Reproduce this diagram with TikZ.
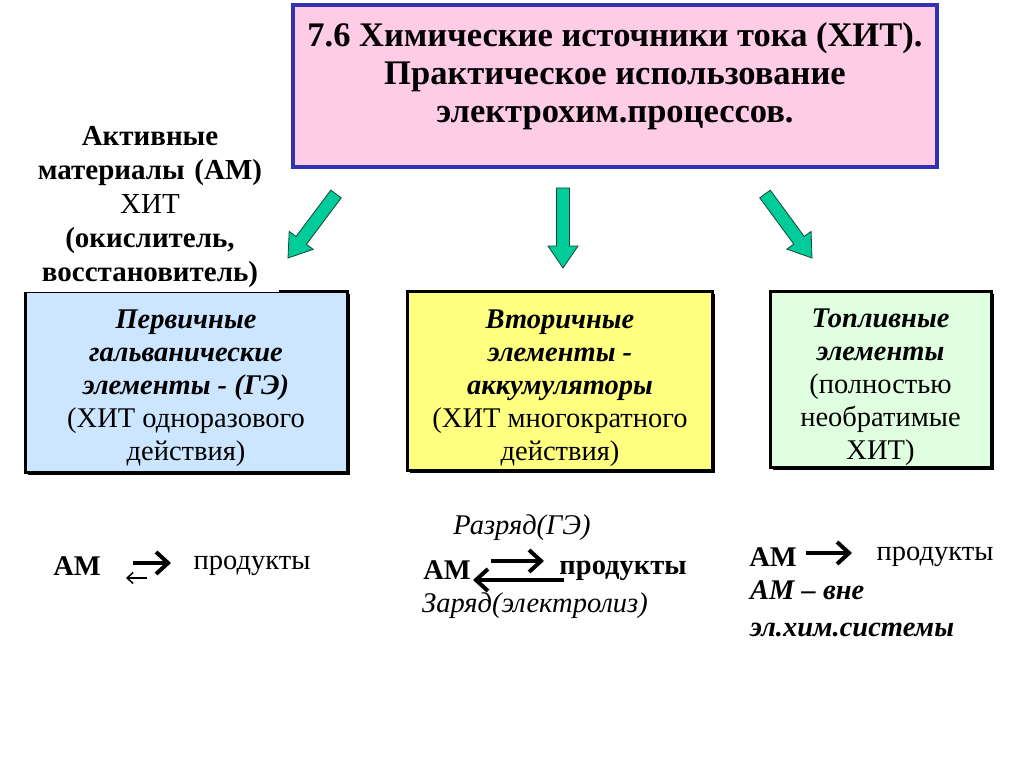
\documentclass[tikz,border=0pt]{standalone}
\usepackage{fontspec}
\setmainfont{Liberation Serif}
\usetikzlibrary{arrows.meta,calc,shadows}
\definecolor{titlefill}{RGB}{255,204,230}
\definecolor{titleline}{RGB}{51,51,178}
\definecolor{bluefill}{RGB}{204,230,255}
\definecolor{yellowfill}{RGB}{255,255,128}
\definecolor{greenfill}{RGB}{224,255,224}
\definecolor{arrowgreen}{RGB}{0,204,153}
\definecolor{arrowline}{RGB}{20,70,55}
\newcommand\blockarrow[2]{%
  \path let \p1=($(#2)-(#1)$) in \pgfextra{\pgfmathsetmacro\mylen{veclen(\x1,\y1)}\pgfmathsetmacro\myang{atan2(\y1,\x1)}\global\let\gLen\mylen\global\let\gAng\myang};
  \draw[blockarr, shift={(#1)}, rotate=\gAng] (0,6.5) -- ({\gLen-22},6.5) -- ({\gLen-22},15) -- (\gLen,0) -- ({\gLen-22},-15) -- ({\gLen-22},-6.5) -- (0,-6.5) -- cycle;
}
\begin{document}
\begin{tikzpicture}[x=1pt,y=1pt,
  blockarr/.style={fill=arrowgreen, draw=arrowline, line width=0.8pt, line join=miter},
  catbox/.style={draw=black, line width=3pt, inner sep=0pt,
    drop shadow={shadow xshift=3pt, shadow yshift=-3pt, fill=black, opacity=1}},
  boxtext/.style={inner sep=0pt, align=center, font=\fontsize{28.5}{33}\selectfont},
  txt/.style={inner sep=0pt, font=\fontsize{28.5}{33}\selectfont},
  thickarr/.style={line width=4pt, -{Straight Barb[length=12pt,width=22pt]}},
  thinarr/.style={line width=1.5pt, -{Straight Barb[length=6pt,width=11pt]}}
]
\useasboundingbox (0,0) rectangle (1024,-767);
\fill[white] (0,0) rectangle (1024,-767);

% title
\node[draw=titleline, fill=titlefill, line width=4pt, minimum width=644pt, minimum height=162pt, inner sep=0pt,
  drop shadow={shadow xshift=2pt, shadow yshift=-2pt, fill=titleline!70!black, opacity=1}] (title) at (615,-86) {};
\node[inner sep=0pt, align=center, font=\fontsize{34.5}{38}\selectfont\bfseries] (titletext) at (615,-76)
  {7.6 Химические источники тока (ХИТ).\\ Практическое использование\\ электрохим.процессов.};

% boxes
\node[catbox, fill=bluefill, minimum width=322pt, minimum height=181pt] (box1) at (186,-381.5) {};
\node[boxtext] (box1text) at (186,-388.5)
  {\textbf{\textit{Первичные}}\\ \textbf{\textit{гальванические}}\\ \textbf{\textit{элементы - (ГЭ)}}\\ (ХИТ одноразового\\ действия)};
\node[catbox, fill=yellowfill, minimum width=305pt, minimum height=179pt] (box2) at (559.5,-380.5) {};
\node[boxtext] (box2text) at (560,-388.5)
  {\textbf{\textit{Вторичные}}\\ \textbf{\textit{элементы -}}\\ \textbf{\textit{аккумуляторы}}\\ (ХИТ многократного\\ действия)};
\node[catbox, fill=greenfill, minimum width=221pt, minimum height=176pt] (box3) at (880.5,-379) {};
\node[boxtext] (box3text) at (880.5,-387.5)
  {\textbf{\textit{Топливные}}\\ \textbf{\textit{элементы}}\\ (полностью\\ необратимые\\ ХИТ)};

% left label
\node[fill=white, inner xsep=2pt, inner ysep=4.5pt, text width=254pt, align=center, anchor=south,
  font=\fontsize{29}{34}\selectfont] (amlabel) at (150,-292.5)
  {\textbf{Активные}\\ \textbf{материалы (АМ)}\\ ХИТ\\ \textbf{(окислитель,}\\ \textbf{восстановитель)}};

% green arrows
\coordinate (a1s) at (336,-194);
\coordinate (a1e) at (288,-258);
\coordinate (a2s) at (563,-188);
\coordinate (a2e) at (563,-268);
\coordinate (a3s) at (765,-194);
\coordinate (a3e) at (812,-258);
\blockarrow{a1s}{a1e}
\blockarrow{a2s}{a2e}
\blockarrow{a3s}{a3e}

% bottom left
\node[txt, font=\fontsize{28.5}{33}\selectfont\bfseries] (am1) at (77,-566) {АМ};
\node[txt] (prod1) at (252,-566) {продукты};
\coordinate (l1s) at (133,-563);
\coordinate (l1e) at (171,-563);
\coordinate (l2s) at (147,-578);
\coordinate (l2e) at (126,-578);
\draw[thickarr] (l1s) -- (l1e);
\draw[thinarr] (l2s) -- (l2e);

% bottom middle
\node[txt, font=\fontsize{28.5}{33}\selectfont\itshape] (razr) at (522,-528) {Разряд(ГЭ)};
\node[txt, font=\fontsize{28.5}{33}\selectfont\bfseries] (am2) at (447,-570) {АМ};
\node[txt, font=\fontsize{28.5}{33}\selectfont\bfseries] (prod2) at (623,-571) {продукты};
\node[txt, font=\fontsize{28.5}{33}\selectfont\itshape] (zar) at (535,-606) {Заряд(электролиз)};
\coordinate (m1s) at (491,-561);
\coordinate (m1e) at (544,-561);
\coordinate (m2s) at (564,-580);
\coordinate (m2e) at (473,-580);
\draw[thickarr] (m1s) -- (m1e);
\draw[thickarr] (m2s) -- (m2e);

% bottom right
\node[txt, font=\fontsize{28.5}{33}\selectfont\bfseries] (am3) at (773,-557) {АМ};
\node[txt] (prod3) at (935,-557) {продукты};
\coordinate (r1s) at (806,-553);
\coordinate (r1e) at (852,-553);
\draw[thickarr] (r1s) -- (r1e);
\node[txt, anchor=north west, align=left, font=\fontsize{28.5}{37}\selectfont\bfseries\itshape] (outside) at (750,-580)
  {АМ – вне\\ эл.хим.системы};
\end{tikzpicture}
\end{document}
